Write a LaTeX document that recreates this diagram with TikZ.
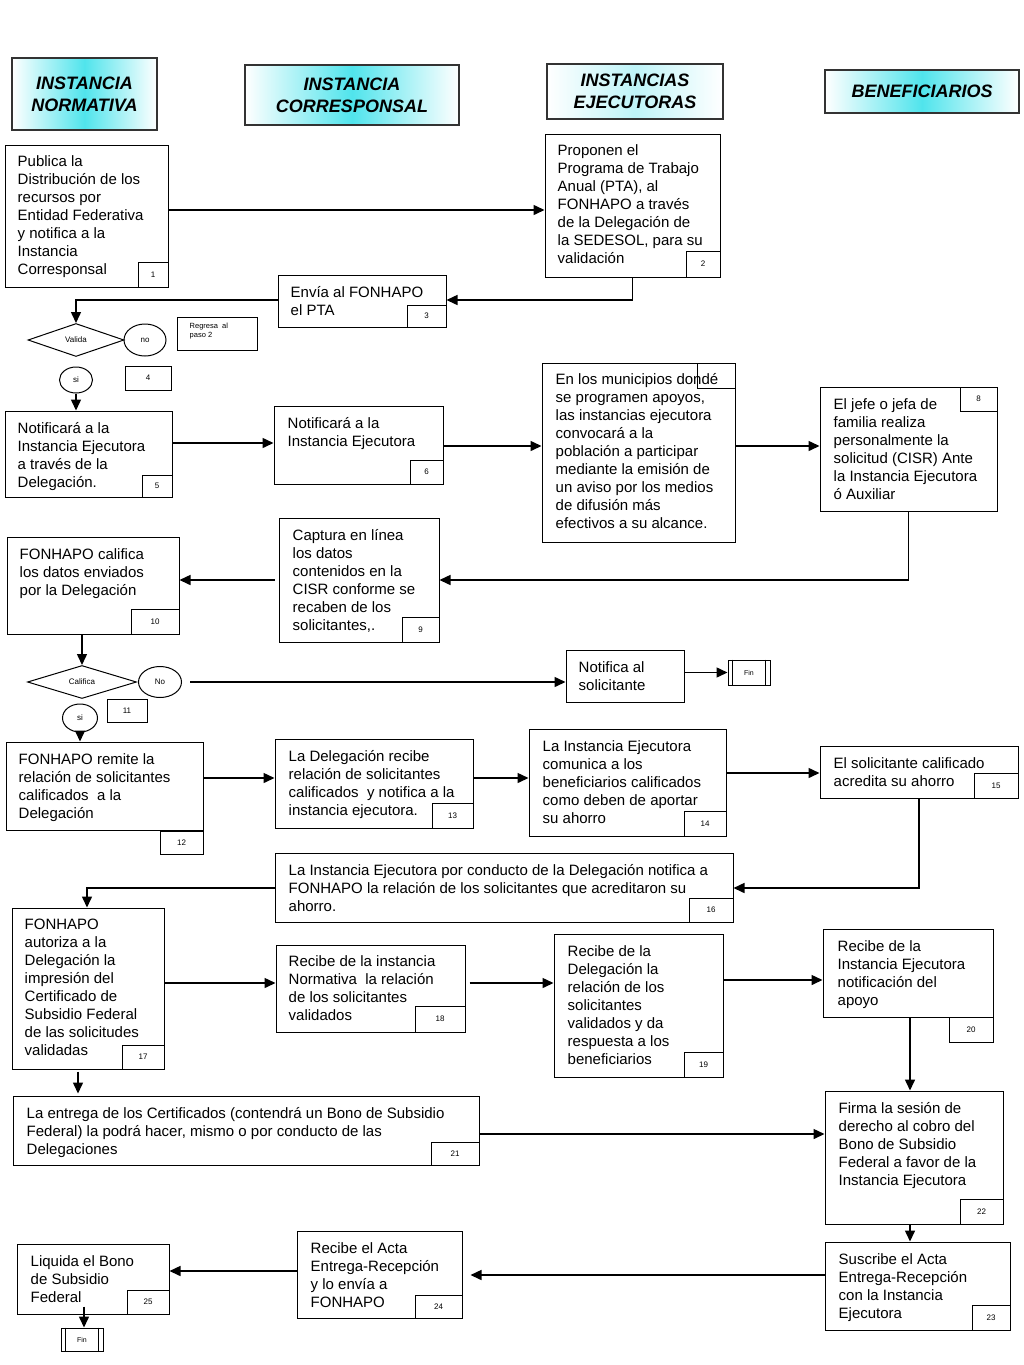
\documentclass[tikz,border=0pt]{standalone}
\usepackage{fontspec}
\setmainfont{Liberation Sans}
\usetikzlibrary{arrows.meta,shapes.geometric,fit}
\tikzset{
  box/.style={draw, line width=1pt, inner sep=0pt},
  txt/.style={anchor=north west, inner sep=0pt, align=left, font=\fontsize{15}{18}\selectfont},
  numbox/.style={draw, line width=1pt, inner sep=0pt},
  numtxt/.style={inner sep=0pt, font=\fontsize{8}{9}\selectfont},
  small/.style={font=\fontsize{8}{10}\selectfont},
  arr/.style={line width=1.5pt, -{Triangle[length=11pt,width=10pt]}},
  hdr/.style={draw=black!80, line width=1.3pt, inner sep=0pt, left color=white, right color=white,
    middle color={rgb,255:red,80;green,228;blue,236}},
  hdrpale/.style={hdr, middle color={rgb,255:red,190;green,244;blue,248}},
  hdrtxt/.style={inner sep=0pt, align=center, font=\fontsize{18}{22}\selectfont\bfseries\itshape},
  dec/.style={diamond, draw, line width=1pt, inner sep=0pt, aspect=3, small},
  oval/.style={ellipse, draw, line width=1pt, inner sep=0pt, small},
  finbox/.style={draw, line width=1pt, inner sep=0pt},
}
\newcommand\bbox[8]{%
  \node[box, fit={(#2,#3) (#4,#5)}] (#1) {};
  \node[txt] (#1t) at ([xshift=#6pt,yshift=-#7pt]#1.north west) {#8};}
\newcommand\nbox[6]{%
  \node[numbox, fit={(#2,#3) (#4,#5)}] (#1) {};
  \node[numtxt] (#1t) at (#1.center) {#6};}
\newcommand\finnode[5]{%
  \node[finbox, fit={(#2,#3) (#4,#5)}] (#1) {};
  \node[inner sep=0pt, font=\fontsize{7}{8}\selectfont] (#1t) at (#1.center) {Fin};
  \draw[line width=1pt] ([xshift=5pt]#1.north west) -- ([xshift=5pt]#1.south west);
  \draw[line width=1pt] ([xshift=-5pt]#1.north east) -- ([xshift=-5pt]#1.south east);}
\begin{document}
\begin{tikzpicture}[x=1pt,y=-1pt]
\useasboundingbox (0,0) rectangle (1024,1365);
% headers
\node[hdr, fit={(12,58) (157,130)}] (h1) {};
\node[hdrtxt] (h1t) at (h1.center) {INSTANCIA\\NORMATIVA};
\node[hdr, fit={(245,65) (459,125)}] (h2) {};
\node[hdrtxt] (h2t) at (h2.center) {INSTANCIA\\CORRESPONSAL};
\node[hdrpale, fit={(547,64) (723,119)}] (h3) {};
\node[hdrtxt] (h3t) at (h3.center) {INSTANCIAS\\EJECUTORAS};
\node[hdr, fit={(825,70) (1019,113)}] (h4) {};
\node[hdrtxt] (h4t) at (h4.center) {BENEFICIARIOS};
% boxes
\bbox{b1}{5}{145}{168}{287}{13}{11}{Publica la\\Distribución de los\\recursos por\\Entidad Federativa\\y notifica a la\\Instancia\\Corresponsal}
\nbox{n1}{138}{262}{168}{287}{1}
\bbox{b2}{545}{134}{720}{277}{13}{11}{Proponen el\\Programa de Trabajo\\Anual (PTA), al\\FONHAPO a través\\de la Delegación de\\la SEDESOL, para su\\validación}
\nbox{n2}{686}{251}{720}{277}{2}
\bbox{b3}{278}{275}{446}{327}{13}{11.5}{Envía al FONHAPO\\el PTA}
\nbox{n3}{407}{305}{446}{327}{3}
\node[dec, minimum width=96pt, minimum height=33pt] (valida) at (76,340) {Valida};
\node[oval, minimum width=42pt, minimum height=32pt] (no1) at (145,340) {no};
\node[box, fit={(177,317) (257,350)}] (reg) {};
\node[anchor=north west, inner sep=0pt, align=left, font=\fontsize{7.5}{9.5}\selectfont] (regt) at ([xshift=13pt,yshift=-6pt]reg.north west) {Regresa\ \ al\\paso 2};
\node[oval, minimum width=33pt, minimum height=26pt] (si1) at (76,380) {si};
\nbox{n4}{125}{366}{171}{390}{4}
\bbox{b5}{5}{411}{172}{497}{13}{11.5}{Notificará a la\\Instancia Ejecutora\\a través de la\\Delegación.}
\nbox{n5}{142}{475}{172}{497}{5}
\bbox{b6}{274}{406}{443}{484}{14}{11.5}{Notificará a la\\Instancia Ejecutora}
\nbox{n6}{410}{460}{443}{484}{6}
\bbox{b7}{542}{363}{735}{542}{14}{10.5}{En los municipios dondé\\se programen apoyos,\\las instancias ejecutora\\convocará a la\\población a participar\\mediante la emisión de\\un aviso por los medios\\de difusión más\\efectivos a su alcance.}
\nbox{n7}{697}{363}{735}{388}{}
\bbox{b8}{820}{387}{997}{511}{14}{11.5}{El jefe o jefa de\\familia realiza\\personalmente la\\solicitud (CISR) Ante\\la Instancia Ejecutora\\ó Auxiliar}
\nbox{n8}{960}{387}{997}{411}{8}
\bbox{b9}{279}{518}{439}{642}{14}{11.5}{Captura en línea\\los datos\\contenidos en la\\CISR conforme se\\recaben de los\\solicitantes,.}
\nbox{n9}{402}{617}{439}{642}{9}
\bbox{b10}{7}{537}{179}{634}{13}{11.5}{FONHAPO califica\\los datos enviados\\por la Delegación}
\nbox{n10}{131}{609}{179}{634}{10}
\node[dec, minimum width=109pt, minimum height=33pt] (califica) at (82,682) {Califica};
\node[oval, minimum width=43pt, minimum height=31pt] (no2) at (160,682) {No};
\bbox{notif}{566}{650}{684}{702}{13}{11.5}{Notifica al\\solicitante}
\finnode{fin1}{728}{660}{770}{685}
\node[oval, minimum width=35pt, minimum height=28pt] (si2) at (80,718) {si};
\nbox{n11}{107}{699}{147}{722}{11}
\bbox{b12}{6}{742}{203}{830}{13}{11.5}{FONHAPO remite la\\relación de solicitantes\\calificados\ \ a la\\Delegación}
\nbox{n12}{160}{831}{203}{854}{12}
\bbox{b13}{275}{739}{473}{828}{14}{11.5}{La Delegación recibe\\relación de solicitantes\\calificados\ \ y notifica a la\\instancia ejecutora.}
\nbox{n13}{432}{803}{473}{828}{13}
\bbox{b14}{529}{729}{726}{836}{14}{11.5}{La Instancia Ejecutora\\comunica a los\\beneficiarios calificados\\como deben de aportar\\su ahorro}
\nbox{n14}{684}{811}{726}{836}{14}
\bbox{b15}{820}{746}{1018}{798}{14}{11.5}{El solicitante calificado\\acredita su ahorro}
\nbox{n15}{974}{773}{1018}{798}{15}
\bbox{b16}{275}{853}{733}{922}{14}{11.5}{La Instancia Ejecutora por conducto de la Delegación notifica a\\FONHAPO la relación de los solicitantes que acreditaron su\\ahorro.}
\nbox{n16}{689}{898}{733}{922}{16}
\bbox{b17}{12}{908}{164}{1069}{13}{11.5}{FONHAPO\\autoriza a la\\Delegación la\\impresión del\\Certificado de\\Subsidio Federal\\de las solicitudes\\validadas}
\nbox{n17}{122}{1045}{164}{1069}{17}
\bbox{b18}{276}{945}{465}{1032}{13}{10.5}{Recibe de la instancia\\Normativa\ \ la relación\\de los solicitantes\\validados}
\nbox{n18}{415}{1006}{465}{1032}{18}
\bbox{b19}{554}{934}{723}{1077}{14}{11.5}{Recibe de la\\Delegación la\\relación de los\\solicitantes\\validados y da\\respuesta a los\\beneficiarios}
\nbox{n19}{684}{1052}{723}{1077}{19}
\bbox{b20}{823}{929}{993}{1017}{15}{11.5}{Recibe de la\\Instancia Ejecutora\\notificación del\\apoyo}
\nbox{n20}{949}{1017}{993}{1042}{20}
\bbox{b21}{13}{1096}{479}{1165}{14}{11.5}{La entrega de los Certificados (contendrá un Bono de Subsidio\\Federal) la podrá hacer, mismo o por conducto de las\\Delegaciones}
\nbox{n21}{431}{1142}{479}{1165}{21}
\bbox{b22}{825}{1091}{1003}{1224}{14}{11.5}{Firma la sesión de\\derecho al cobro del\\Bono de Subsidio\\Federal a favor de la\\Instancia Ejecutora}
\nbox{n22}{960}{1199}{1003}{1224}{22}
\bbox{b23}{825}{1242}{1010}{1330}{14}{11.5}{Suscribe el Acta\\Entrega-Recepción\\con la Instancia\\Ejecutora}
\nbox{n23}{972}{1305}{1010}{1330}{23}
\bbox{b24}{297}{1231}{462}{1318}{14}{11.5}{Recibe el Acta\\Entrega-Recepción\\y lo envía a\\FONHAPO}
\nbox{n24}{415}{1295}{462}{1318}{24}
\bbox{b25}{17}{1244}{169}{1314}{14}{11.5}{Liquida el Bono\\de Subsidio\\Federal}
\nbox{n25}{127}{1290}{169}{1314}{25}
\finnode{fin2}{61}{1328}{103}{1351}
% connectors
\draw[arr] (b1.east |- 0,210) -- (b2.west |- 0,210);
\draw[arr] (b2.south) |- (b3.east |- 0,300);
\draw[arr] (b3.west |- 0,300) -| (valida.north);
\draw[arr] (si1.south) -- (si1.south |- b5.north);
\draw[arr] (b5.east |- 0,443) -- (b6.west |- 0,443);
\draw[arr] (b6.east |- 0,446) -- (b7.west |- 0,446);
\draw[arr] (b7.east |- 0,446) -- (b8.west |- 0,446);
\draw[arr] (b8.south) |- (b9.east |- 0,580);
\draw[arr] ([xshift=-4pt]b9.west |- 0,580) -- (b10.east |- 0,580);
\draw[arr] (califica.north |- b10.south) -- (califica.north);
\draw[arr] ([xshift=8pt]no2.east) -- (notif.west |- no2.east);
\draw[arr] (notif.east |- fin1.west) -- (fin1.west);
\draw[arr] (si2.south) -- (si2.south |- b12.north);
\draw[arr] (b12.east |- 0,778) -- (b13.west |- 0,778);
\draw[arr] (b13.east |- 0,778) -- (b14.west |- 0,778);
\draw[arr] (b14.east |- 0,773) -- (b15.west |- 0,773);
\draw[arr] (b15.south) |- (b16.east |- 0,888);
\draw[arr] (b16.west |- 0,888) -| (b17.north -| 87,0);
\draw[arr] (b17.east |- 0,983) -- (b18.west |- 0,983);
\draw[arr] ([xshift=4pt]b18.east |- 0,983) -- (b19.west |- 0,983);
\draw[arr] (b19.east |- 0,980) -- (b20.west |- 0,980);
\draw[arr] (b20.south -| 910,0) -- (b22.north -| 910,0);
\draw[arr] ([yshift=-2pt]b17.south -| 78,0) -- ([yshift=2pt]b21.north -| 78,0);
\draw[arr] (b21.east |- 0,1134) -- (b22.west |- 0,1134);
\draw[arr] (b22.south -| 910,0) -- (b23.north -| 910,0);
\draw[arr, shorten >=8pt] (b23.west |- 0,1275) -- (b24.east |- 0,1275);
\draw[arr] (b24.west |- 0,1271) -- (b25.east |- 0,1271);
\draw[arr] ([yshift=8pt]b25.south -| 84,0) -- (fin2.north -| 84,0);
\end{tikzpicture}
\end{document}
